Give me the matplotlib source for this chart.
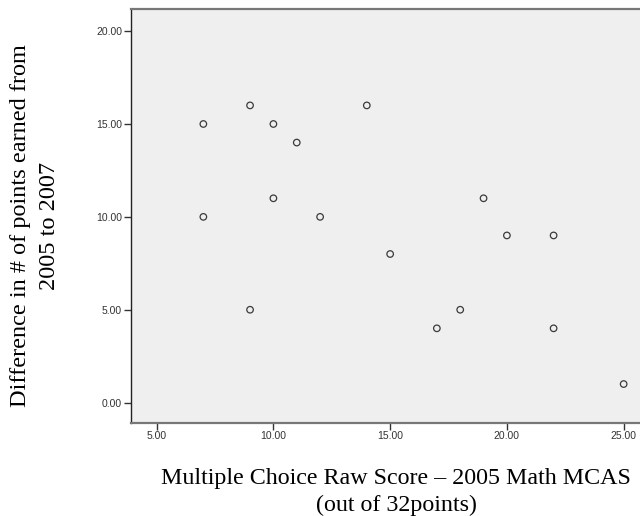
import matplotlib.pyplot as plt

# raw score 2005 (x) vs point gain 2005->2007 (y)
raw_score = [7, 7, 9, 9, 10, 10, 11, 12, 14, 15, 17, 18, 19, 20, 22, 22, 25]
gain = [15, 10, 16, 5, 15, 11, 14, 10, 16, 8, 4, 5, 11, 9, 9, 4, 1]
x_ticks = [5, 10, 15, 20, 25]
y_ticks = [0, 5, 10, 15, 20]

fig = plt.figure(figsize=(6.4, 5.16), dpi=100)
ax = fig.add_axes([130.5 / 640, 1 - 422.5 / 516, 1 - 130.5 / 640, (422.5 - 9) / 516])
ax.set_facecolor("#efefef")

ax.scatter(raw_score, gain, s=22, facecolors="none", edgecolors="#3a3a3a",
           linewidths=0.9, zorder=3)

ax.set_xlim(3.88, 25.70)
ax.set_ylim(-1.07, 21.19)
ax.set_xticks(x_ticks)
ax.set_yticks(y_ticks)
ax.set_xticklabels([f"{v:.2f}" for v in x_ticks])
ax.set_yticklabels([f"{v:.2f}" for v in y_ticks])
ax.tick_params(direction="out", length=5, width=1, color="#333333",
               labelsize=7.5, labelcolor="#333333", pad=1)
for lab in ax.get_xticklabels() + ax.get_yticklabels():
    lab.set_family("Liberation Sans")

ax.spines["left"].set_color("#222222")
ax.spines["left"].set_linewidth(1.0)
for side in ("top", "bottom"):
    ax.spines[side].set_color("#777777")
    ax.spines[side].set_linewidth(1.6)
ax.spines["right"].set_visible(False)

fig.text(396 / 640, 1 - 492 / 516,
         "Multiple Choice Raw Score \u2013 2005 Math MCAS\n(out of 32points)",
         ha="center", va="center", family="Liberation Serif", fontsize=17.3,
         linespacing=1.35)
fig.text(35 / 640, 1 - 226 / 516,
         "Difference in # of points earned from\n2005 to 2007",
         ha="center", va="center", rotation=90, family="Liberation Serif",
         fontsize=17.5, linespacing=1.45)

fig.savefig("out.png", dpi=100)
